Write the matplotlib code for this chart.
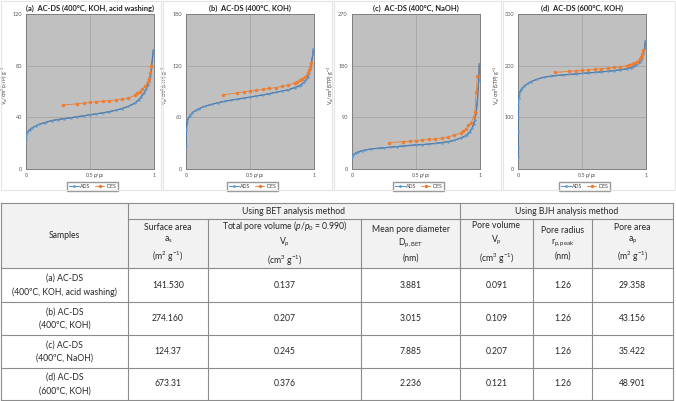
import matplotlib.pyplot as plt
from matplotlib.patches import Rectangle
from matplotlib.lines import Line2D

plt.rcParams['font.family'] = ['Lato', 'DejaVu Sans']
plt.rcParams['mathtext.fontset'] = 'custom'
plt.rcParams['mathtext.rm'] = 'Lato'
plt.rcParams['mathtext.it'] = 'Lato:italic'
plt.rcParams['mathtext.bf'] = 'Lato:bold'

# ---- isotherm data ----
ADS_P = [0.0, 0.002, 0.01, 0.03, 0.05, 0.08, 0.1, 0.15, 0.2, 0.25, 0.3, 0.35, 0.4, 0.45,
         0.5, 0.55, 0.6, 0.65, 0.7, 0.75, 0.8, 0.85, 0.88, 0.9, 0.92, 0.94, 0.95, 0.96,
         0.97, 0.98, 0.99, 0.995]
ADS_P_D = [0.0, 0.0001, 0.0003, 0.0006, 0.001, 0.002, 0.005, 0.01, 0.02, 0.03, 0.05, 0.08,
           0.1, 0.15, 0.2, 0.25, 0.3, 0.35, 0.4, 0.45, 0.5, 0.55, 0.6, 0.65, 0.7, 0.75, 0.8,
           0.85, 0.88, 0.9, 0.92, 0.94, 0.95, 0.96, 0.97, 0.98, 0.99, 0.995]
DES_P = [0.29, 0.40, 0.45, 0.50, 0.55, 0.60, 0.65, 0.70, 0.75, 0.80, 0.85, 0.87, 0.89,
         0.91, 0.93, 0.95, 0.96, 0.97, 0.98]

ads_a = [23, 26, 28.5, 30.5, 32, 33.5, 34.5, 36, 37.5, 38.3, 39, 39.7, 40.5, 41.2, 42, 42.7,
         43.5, 44.4, 45.5, 46.8, 48.5, 51, 53.5, 56, 58.5, 62, 65, 68, 72, 78, 88, 92]
des_a = [49.5, 50.5, 51, 51.5, 52, 52.5, 53, 53.5, 54, 55, 57, 58.5, 60, 62, 64, 67, 70, 74, 80]

ads_b = [27, 45, 56, 62, 65.5, 68.5, 70, 73, 75, 77, 78.5, 80, 81, 82.3, 83.5, 84.8, 86, 87.5,
         89, 90.5, 92, 94.5, 96.5, 98, 100.5, 104, 107, 111, 116, 123, 133, 139]
des_b = [86, 88.5, 89.5, 90.5, 91.5, 92.5, 93.5, 94.5, 96, 97.5, 100, 101.5, 103, 105, 107,
         111, 115, 118, 123]

ads_c = [21.5, 23.5, 25, 28, 30, 32, 33, 35, 36, 37, 38, 39, 40, 41, 42, 42.5, 43.5, 44.5, 46,
         47.5, 50, 54, 57, 60, 65, 72, 78, 86, 98, 120, 155, 183]
des_c = [46, 47.5, 48.5, 49.5, 50.5, 51.5, 52.5, 54, 56, 59, 63, 66, 70, 76, 80, 90, 100, 135, 162]

ads_d = [24, 43, 74, 100, 120, 130, 138, 145, 152, 156, 161, 166, 169, 174, 177.5, 179.5, 181,
         182, 183, 184, 185, 186, 187, 188, 189, 190.5, 192, 194, 196, 198, 201, 205, 207,
         211, 215, 222, 235, 248]
des_d = [187, 189, 190, 191, 192, 193, 194, 195, 196.5, 198, 200, 201.5, 203, 205, 208, 212,
         216, 222, 230]

titles = ["(a)  AC-DS (400\u00b0C, KOH, acid washing)", "(b)  AC-DS (400\u00b0C, KOH)",
          "(c)  AC-DS (400\u00b0C, NaOH)", "(d)  AC-DS (600\u00b0C, KOH)"]
y_max = [120, 180, 270, 300]
y_step = [40, 60, 90, 100]

# ---- table data ----
samples = ["(a) AC-DS\n(400\u00baC, KOH, acid washing)", "(b) AC-DS\n(400\u00baC, KOH)",
           "(c) AC-DS\n(400\u00baC, NaOH)", "(d) AC-DS\n(600\u00baC, KOH)"]
surface_area = ["141.530", "274.160", "124.37", "673.31"]
total_pore_vol = ["0.137", "0.207", "0.245", "0.376"]
mean_pore_diam = ["3.881", "3.015", "7.885", "2.236"]
bjh_pore_vol = ["0.091", "0.109", "0.207", "0.121"]
bjh_pore_radius = ["1.26", "1.26", "1.26", "1.26"]
bjh_pore_area = ["29.358", "43.156", "35.422", "48.901"]
col_heads = ["Surface area\n$\\mathregular{a_s}$\n(m$^2$ g$^{-1}$)",
             "Total pore volume ($p/p_0$ = 0.990)\n$\\mathregular{V_p}$\n(cm$^3$ g$^{-1}$)",
             "Mean pore diameter\n$\\mathregular{D_{p,BET}}$\n(nm)",
             "Pore volume\n$\\mathregular{V_p}$\n(cm$^3$ g$^{-1}$)",
             "Pore radius\n$\\mathregular{r_{p,peak}}$\n(nm)",
             "Pore area\n$\\mathregular{a_p}$\n(m$^2$ g$^{-1}$)"]

W, H = 676, 401
fig = plt.figure(figsize=(W / 100, H / 100), dpi=100)

ADS_C = '#5b9bd5'
DES_C = '#ed7d31'

# chart-area frames
for x0, x1 in [(1, 161), (163, 332), (334, 501), (503, 675)]:
    fig.add_artist(Rectangle((x0 / W, 1 - 190 / H), (x1 - x0) / W, 189 / H,
                             transform=fig.transFigure, fill=False, ec='#e4e4e4', lw=0.8))

lefts = [26, 186, 352, 518]
series = [(ADS_P, ads_a, des_a), (ADS_P, ads_b, des_b), (ADS_P, ads_c, des_c), (ADS_P_D, ads_d, des_d)]
for i, (lx, (ap, av, dv)) in enumerate(zip(lefts, series)):
    ax = fig.add_axes([lx / W, 1 - 169 / H, 128 / W, 155 / H])
    ax.set_facecolor('#c0c0c0')
    ax.plot(ap, av, color='#3b4f6b', lw=0.8, zorder=3)
    ax.plot(ap, av, color=ADS_C, lw=0.4, marker='o', ms=0.8, zorder=4)
    ax.plot(DES_P, dv, color=DES_C, lw=0.6, marker='o', ms=1.5, zorder=5)
    ax.set_xlim(0, 1)
    ax.set_ylim(0, y_max[i])
    ax.set_xticks([0, 0.5, 1])
    ax.set_xticklabels(['0', '0.5', '1'])
    ax.set_yticks(list(range(0, y_max[i] + 1, y_step[i])))
    ax.grid(True, color='#a6a6a6', lw=0.6)
    ax.set_axisbelow(True)
    ax.tick_params(length=0, labelsize=4, colors='#595959', pad=3)
    for s in ax.spines.values():
        s.set_color('#7f7f7f')
        s.set_linewidth(0.7)
    ax.set_title(titles[i], fontsize=5.4, fontweight='bold', pad=2.5, color='#222222')
    ax.text(0.57, -0.012, '$p/p_0$', transform=ax.transAxes, fontsize=3.8,
            ha='center', va='top', color='#404040')
    ax.set_ylabel('V$_a$/cm$^3$(STP) g$^{-1}$', fontsize=3.8, color='#404040')
    ax.yaxis.set_label_coords(-0.125, 0.54)
    handles = [Line2D([], [], color=ADS_C, lw=0.8, marker='o', ms=1.0),
               Line2D([], [], color=DES_C, lw=0.6, marker='o', ms=1.5)]
    ax.legend(handles, ['ADS', 'DES'], loc='upper center', bbox_to_anchor=(0.52, -0.065),
              ncol=2, fontsize=3.8, frameon=True, fancybox=False, edgecolor='#7f7f7f',
              handlelength=1.8, handletextpad=0.3, columnspacing=0.8, borderpad=0.4,
              labelcolor='#404040')

# ---- table ----
tab = fig.add_axes([0, 0, 1, 1])
tab.set_xlim(0, W)
tab.set_ylim(H, 0)
tab.axis('off')

xs = [1, 128, 208, 361, 460, 533, 592, 673]
ys = [203, 219, 268, 302, 335, 368, 400]
line_c = '#8c8c8c'
fs = 6.2
tc = '#262626'

tab.add_patch(Rectangle((xs[0], ys[0]), xs[-1] - xs[0], ys[2] - ys[0], fc='#f2f2f2', ec='none'))
# horizontal lines
tab.plot([xs[0], xs[-1]], [ys[0]] * 2, color=line_c, lw=0.8)
tab.plot([xs[1], xs[-1]], [ys[1]] * 2, color=line_c, lw=0.8)
for y in ys[2:]:
    tab.plot([xs[0], xs[-1]], [y] * 2, color=line_c, lw=0.8)
# vertical lines
for j, x in enumerate(xs):
    if j in (2, 3, 5, 6):
        tab.plot([x, x], [ys[1], ys[-1]], color=line_c, lw=0.8)
    else:
        tab.plot([x, x], [ys[0], ys[-1]], color=line_c, lw=0.8)

tab.text((xs[0] + xs[1]) / 2, (ys[0] + ys[2]) / 2, 'Samples', ha='center', va='center',
         fontsize=fs, color=tc)
tab.text((xs[1] + xs[4]) / 2, (ys[0] + ys[1]) / 2, 'Using BET analysis method', ha='center',
         va='center', fontsize=fs, color=tc)
tab.text((xs[4] + xs[7]) / 2, (ys[0] + ys[1]) / 2, 'Using BJH analysis method', ha='center',
         va='center', fontsize=fs, color=tc)
for j, head in enumerate(col_heads):
    tab.text((xs[j + 1] + xs[j + 2]) / 2, (ys[1] + ys[2]) / 2, head, ha='center', va='center',
             fontsize=fs, color=tc, linespacing=1.4)

columns = [surface_area, total_pore_vol, mean_pore_diam, bjh_pore_vol, bjh_pore_radius, bjh_pore_area]
for r, name in enumerate(samples):
    yc = (ys[r + 2] + ys[r + 3]) / 2
    tab.text((xs[0] + xs[1]) / 2, yc, name, ha='center', va='center', fontsize=fs,
             color=tc, linespacing=1.6)
    for j, col in enumerate(columns):
        tab.text((xs[j + 1] + xs[j + 2]) / 2, yc, col[r], ha='center', va='center',
                 fontsize=fs, color=tc)

fig.savefig('out.png', dpi=100)
